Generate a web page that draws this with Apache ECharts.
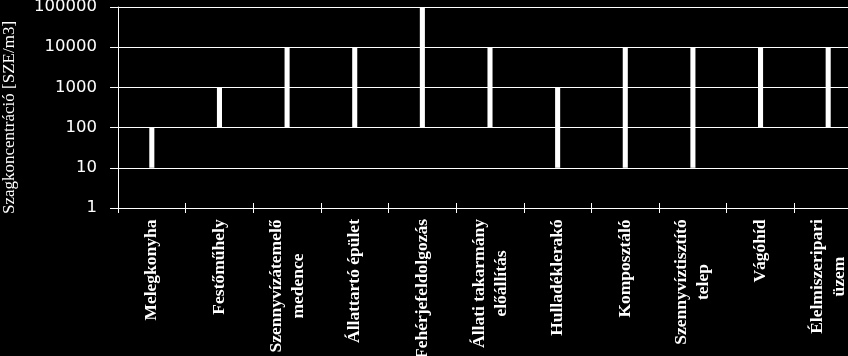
<!DOCTYPE html>
<html>
<head>
<meta charset="utf-8">
<script src="https://cdn.jsdelivr.net/npm/echarts@6/dist/echarts.min.js"></script>
<style>
html,body{margin:0;padding:0;background:#000;overflow:hidden;width:848px;height:356px;}
#chart{width:862px;height:356px;}
</style>
</head>
<body>
<div id="chart"></div>
<script>
var categories = ['Melegkonyha','Festőműhely','Szennyvízátemelő\nmedence','Állattartó épület','Fehérjefeldolgozás','Állati takarmány\nelőállítás','Hulladéklerakó','Komposztáló','Szennyvíztisztító\ntelep','Vágóhíd','Élelmiszeripari\nüzem'];
var lowValues = [10,100,100,100,100,100,10,10,10,100,100];
var highValues = [100,1000,10000,10000,100000,10000,1000,10000,10000,10000,10000];
var yTickLabels = ['1','10','100','1000','10000','100000'];
var yAxisTitle = 'Szagkoncentráció [SZE/m3]';

var LABEL_SIZE = 17.5;
var LABEL_WEIGHT = 'bold';
var cv = document.createElement('canvas').getContext('2d');
cv.font = LABEL_WEIGHT + ' ' + LABEL_SIZE + 'px "Liberation Serif"';
var rich = {};
categories.forEach(function(c, i){
  var lines = c.split('\n');
  var w = 0;
  lines.forEach(function(l){ w = Math.max(w, cv.measureText(l).width); });
  rich['c'+i] = {width: Math.ceil(w), align: 'center', fontFamily: 'Liberation Serif', fontWeight: LABEL_WEIGHT, fontSize: LABEL_SIZE, color: '#fff', lineHeight: 22};
});

var barData = categories.map(function(c, i){ return [i, lowValues[i], highValues[i]]; });

var chart = echarts.init(document.getElementById('chart'), null, {renderer: 'canvas'});
chart.setOption({
  backgroundColor: '#000',
  animation: false,
  grid: {left: 118, right: 0, top: 7, bottom: 148, containLabel: false, outerBoundsMode: 'none'},
  xAxis: [{
    type: 'category',
    data: categories,
    boundaryGap: true,
    axisLine: {lineStyle: {color: '#fff', width: 1}},
    axisTick: {show: true, length: 5, interval: 0, lineStyle: {color: '#fff'}},
    axisLabel: {
      interval: 0, rotate: 90, margin: 11, color: '#fff',
      fontFamily: 'Liberation Serif', fontWeight: LABEL_WEIGHT, fontSize: LABEL_SIZE, lineHeight: 22,
      formatter: function(v, idx){
        return v.split('\n').map(function(l){ return '{c'+idx+'|'+l+'}'; }).join('\n');
      },
      rich: rich
    },
    splitLine: {show: false}
  },{
    type: 'category',
    data: categories,
    position: 'bottom',
    boundaryGap: true,
    axisLine: {show: false},
    axisTick: {show: true, inside: true, length: 5, interval: 0, lineStyle: {color: '#fff'}},
    axisLabel: {show: false},
    splitLine: {show: false}
  }],
  yAxis: {
    type: 'log',
    logBase: 10,
    min: 1,
    max: 100000,
    axisLine: {show: true, lineStyle: {color: '#fff', width: 1}},
    axisTick: {show: true, length: 8, lineStyle: {color: '#fff'}},
    axisLabel: {
      color: '#fff', fontFamily: 'DejaVu Sans', fontSize: 16.5, margin: 21,
      formatter: function(v){ var s = String(Math.round(v)); return yTickLabels.indexOf(s) >= 0 ? s : ''; }
    },
    splitLine: {show: true, lineStyle: {color: '#fff', width: 1}}
  },
  graphic: [{
    type: 'text',
    x: 10, y: 117.5,
    rotation: Math.PI / 2,
    style: {
      text: yAxisTitle,
      fill: '#fff',
      font: '17px "Liberation Serif"',
      align: 'center',
      verticalAlign: 'middle'
    }
  }],
  series: [{
    type: 'custom',
    xAxisIndex: 0,
    yAxisIndex: 0,
    data: barData,
    renderItem: function(params, api){
      var p1 = api.coord([api.value(0), api.value(1)]);
      var p2 = api.coord([api.value(0), api.value(2)]);
      var bw = api.size([1, 0])[0] * 0.075;
      return {
        type: 'rect',
        shape: {x: p1[0] - bw / 2, y: p2[1], width: bw, height: p1[1] - p2[1]},
        style: {fill: '#fff'}
      };
    }
  }]
});
</script>
</body>
</html>
